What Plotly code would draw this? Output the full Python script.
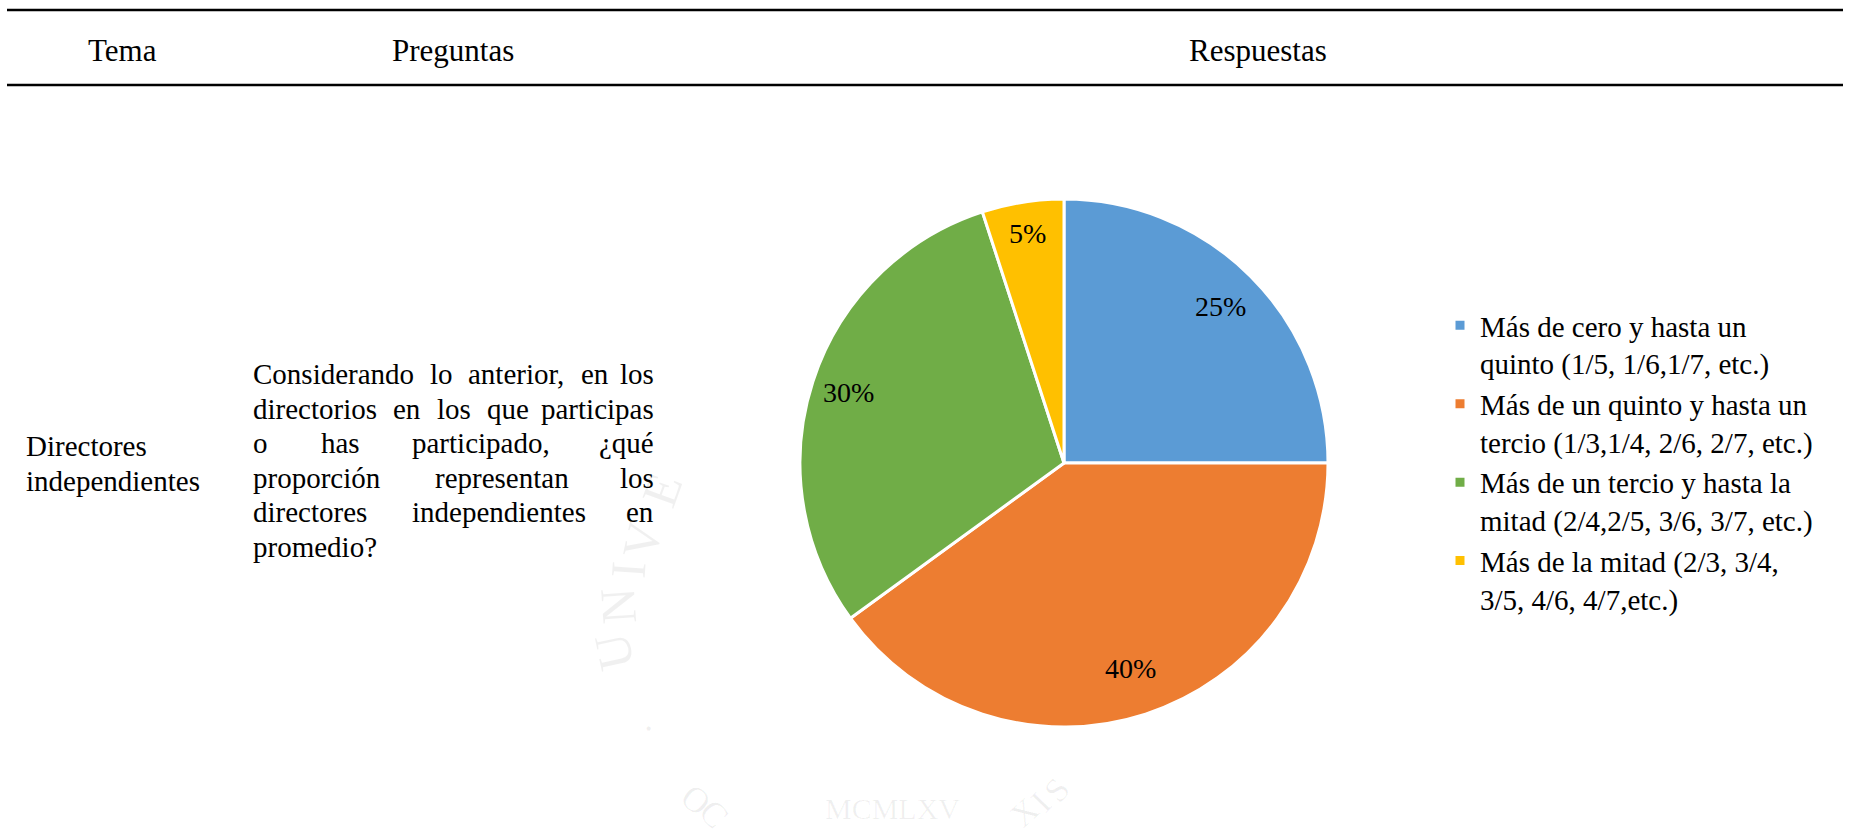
import math
import plotly.graph_objects as go

W, H = 1849, 838
SERIF = "Liberation Serif, Times New Roman, serif"

# ---- data ----
categorias = [
    "Más de cero y hasta un<br>quinto (1/5, 1/6,1/7, etc.)",
    "Más de un quinto y hasta un<br>tercio (1/3,1/4, 2/6, 2/7, etc.)",
    "Más de un tercio y hasta la<br>mitad (2/4,2/5, 3/6, 3/7, etc.)",
    "Más de la mitad (2/3, 3/4,<br>3/5, 4/6, 4/7,etc.)",
]
porcentajes = [25, 40, 30, 5]
colores = ["#5B9BD5", "#ED7D31", "#70AD47", "#FFC000"]

encabezados = ["Tema", "Preguntas", "Respuestas"]
tema = ["Directores", "independientes"]
pregunta = [
    "Considerando lo anterior, en los",
    "directorios en los que participas",
    "o has participado, ¿qué",
    "proporción representan los",
    "directores independientes en",
    "promedio?",
]


def px(x):
    return x / W


def py(y):
    return 1 - y / H


# Times-Roman advance widths (per 1000 em) used to justify the question text
TIMES = {
    "a": 444, "b": 500, "c": 444, "d": 500, "e": 444, "f": 333, "g": 500,
    "h": 500, "i": 278, "j": 278, "k": 500, "l": 278, "m": 778, "n": 500,
    "o": 500, "p": 500, "q": 500, "r": 333, "s": 389, "t": 278, "u": 500,
    "v": 500, "w": 722, "x": 500, "y": 500, "z": 444, "C": 667, "D": 722,
    ",": 250, "?": 444, "¿": 444, "é": 444, "ó": 500, "á": 444, " ": 250,
}


def text_width(word, size):
    return sum(TIMES.get(ch, 500) for ch in word) * size / 1000.0


FS = 29
annotations = []
shapes = []

# ---- table rules ----
for yy in (10, 85):
    shapes.append(dict(type="line", xref="paper", yref="paper",
                       x0=px(7), x1=px(1843), y0=py(yy), y1=py(yy),
                       line=dict(color="black", width=2.5)))

# ---- header ----
for txt, xc in zip(encabezados, [123, 453, 1258]):
    annotations.append(dict(text=txt, x=px(xc), y=py(50), xref="paper", yref="paper",
                            xanchor="center", yanchor="middle", showarrow=False,
                            font=dict(family=SERIF, size=31, color="black")))

# ---- faint seal in the page background ----
WM = "rgba(0,0,0,0.06)"
sello = [
    ("U", 614, 652, -102, 50), ("N", 618, 606, -94, 50), ("I", 628, 570, -86, 50),
    ("V", 642, 540, -78, 50), ("E", 662, 490, -70, 50),
    ("O", 696, 800, 40, 36), ("C", 714, 814, 48, 36),
    ("MCMLXV", 892, 808, 0, 30), ("X", 1024, 812, -42, 34), ("I", 1040, 802, -46, 34),
    ("S", 1056, 790, -50, 34), ("·", 648, 728, 0, 40),
]
for ch, xx, yy, ang, sz in sello:
    annotations.append(dict(text=ch, x=px(xx), y=py(yy), xref="paper", yref="paper",
                            xanchor="center", yanchor="middle", showarrow=False,
                            textangle=ang,
                            font=dict(family=SERIF, size=sz, color=WM)))

# ---- justified question text ----
LEFT, RIGHT = 251, 656
Y0, STEP = 374, 34.5
for i, linea in enumerate(pregunta):
    yy = py(Y0 + STEP * i)
    words = linea.split(" ")
    last = i == len(pregunta) - 1
    if last or len(words) == 1:
        annotations.append(dict(text=linea, x=px(LEFT), y=yy, xref="paper", yref="paper",
                                xanchor="left", yanchor="middle", showarrow=False,
                                font=dict(family=SERIF, size=FS, color="black")))
        continue
    widths = [text_width(w, FS) for w in words]
    gap = (RIGHT - LEFT - sum(widths)) / (len(words) - 1)
    xcur = LEFT
    for j, (w, wd) in enumerate(zip(words, widths)):
        if j == len(words) - 1:
            annotations.append(dict(text=w, x=px(RIGHT), y=yy, xref="paper", yref="paper",
                                    xanchor="right", yanchor="middle", showarrow=False,
                                    font=dict(family=SERIF, size=FS, color="black")))
        else:
            annotations.append(dict(text=w, x=px(xcur), y=yy, xref="paper", yref="paper",
                                    xanchor="left", yanchor="middle", showarrow=False,
                                    font=dict(family=SERIF, size=FS, color="black")))
        xcur += wd + gap

# ---- "Tema" column, level with the 3rd and 4th question lines ----
for i, t in enumerate(tema):
    annotations.append(dict(text=t, x=px(24), y=py(Y0 + STEP * (2 + i) + 3),
                            xref="paper", yref="paper",
                            xanchor="left", yanchor="middle", showarrow=False,
                            font=dict(family=SERIF, size=FS, color="black")))

# ---- pie ----
CX, CY, R = 1064, 463, 264
fig = go.Figure()
fig.add_trace(go.Pie(
    labels=categorias,
    values=porcentajes,
    sort=False,
    direction="clockwise",
    rotation=0,
    marker=dict(colors=colores, line=dict(color="white", width=3)),
    textinfo="none",
    hoverinfo="label+percent",
    domain=dict(x=[px(CX - R), px(CX + R)], y=[py(CY + R), py(CY - R)]),
))

# percentage labels placed along each slice's mid-angle
total = sum(porcentajes)
radial = [0.84, 0.82, 0.86, 0.88]
acum = 0
for v, k in zip(porcentajes, radial):
    frac = (acum + v / 2) / total
    th = 2 * math.pi * frac
    rr = k * R
    lx = CX + rr * math.sin(th)
    ly = CY - rr * math.cos(th)
    annotations.append(dict(text=f"{round(100 * v / total)}%", x=px(lx), y=py(ly),
                            xref="paper", yref="paper", xanchor="center", yanchor="middle",
                            showarrow=False,
                            font=dict(family=SERIF, size=28, color="black")))
    acum += v

fig.update_layout(
    width=W, height=H,
    margin=dict(l=0, r=0, t=0, b=0),
    paper_bgcolor="white", plot_bgcolor="white",
    showlegend=True,
    legend=dict(
        x=px(1440), y=py(300), xanchor="left", yanchor="top",
        valign="top",
        font=dict(family=SERIF, size=FS, color="black"),
        bgcolor="rgba(0,0,0,0)", borderwidth=0,
        itemclick=False, itemdoubleclick=False,
    ),
    shapes=shapes,
    annotations=annotations,
)

fig.write_html("out.html")
